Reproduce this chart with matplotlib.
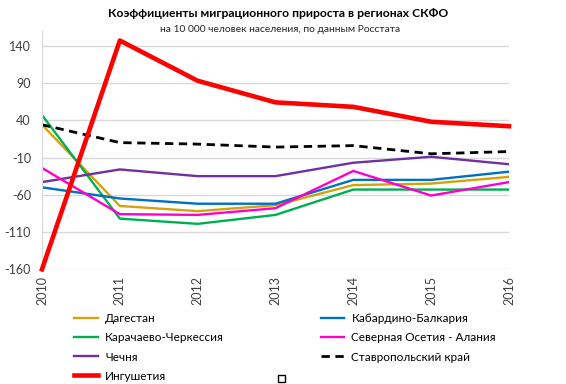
import matplotlib
matplotlib.use("Agg")
import matplotlib.pyplot as plt
from matplotlib.patches import Rectangle

plt.rcParams['font.family'] = ['Lato', 'Noto Sans', 'DejaVu Sans']

years = ['2010', '2011', '2012', '2013', '2014', '2015', '2016']

dagestan = [34, -75, -82, -74, -47, -45, -36]
karachaevo = [47, -92, -99, -87, -53, -53, -53]
chechnya = [-43, -26, -35, -35, -17, -9, -19]
ingushetia = [-160, 147, 93, 64, 58, 38, 32]
kabardino = [-50, -65, -72, -72, -40, -40, -29]
osetia = [-24, -86, -87, -78, -28, -61, -43]
stavropol = [34, 10, 8, 4, 6, -5, -2]

y_ticks = [-160, -110, -60, -10, 40, 90, 140]

fig = plt.figure(figsize=(5.66, 3.84), dpi=100)
ax = fig.add_axes([0.0742, 0.2987, 0.825, 0.621])

x = list(range(len(years)))
ax.plot(x, dagestan, color='#D4A20C', lw=1.7, label='Дагестан')
ax.plot(x, karachaevo, color='#00B050', lw=1.7, label='Карачаево-Черкессия')
ax.plot(x, chechnya, color='#7030A0', lw=1.7, label='Чечня')
ax.plot(x, kabardino, color='#0070C0', lw=1.7, label='Кабардино-Балкария')
ax.plot(x, osetia, color='#FF00CC', lw=1.7, label='Северная Осетия - Алания')
ax.plot(x, stavropol, color='black', lw=2.0, ls=(0, (3, 2)), label='Ставропольский край')
ax.plot(x, ingushetia, color='#FF0000', lw=3.3, label='Ингушетия', clip_on=False, zorder=5)

ax.set_xlim(0, len(years) - 1)
ax.set_ylim(-160, 160)
ax.set_xticks(x)
ax.set_xticklabels(years, rotation=90, fontsize=9, color='#404040')
ax.set_yticks(y_ticks)
ax.set_yticklabels([str(v) for v in y_ticks], fontsize=9, color='#404040')
ax.tick_params(axis='y', length=0, pad=8)
ax.tick_params(axis='x', length=0, pad=5)
ax.grid(axis='y', color='#D9D9D9', lw=1)
ax.set_axisbelow(True)
for s in ax.spines.values():
    s.set_visible(False)
ax.spines['left'].set_visible(True)
ax.spines['left'].set_color('#D9D9D9')

fig.text(0.491, 0.965, 'Коэффициенты миграционного прироста в регионах СКФО',
         ha='center', va='center', fontsize=8.75, fontweight='bold', color='black')
fig.text(0.494, 0.922, 'на 10 000 человек населения, по данным Росстата',
         ha='center', va='center', fontsize=7.4, color='#262626')

h, l = ax.get_legend_handles_labels()
order = [0, 1, 2, 6, 3, 4, 5]
fig.legend([h[i] for i in order], [l[i] for i in order], ncol=2,
           loc='upper left', bbox_to_anchor=(0.123, 0.196), frameon=False,
           fontsize=8.5, handlelength=2.0, columnspacing=8.2, labelspacing=0.68,
           handletextpad=0.6, borderaxespad=0)

fig.patches.append(Rectangle((0.492, 0.006), 0.012, 0.018, transform=fig.transFigure,
                             fill=False, ec='black', lw=1))

fig.savefig('out.png', dpi=100)
